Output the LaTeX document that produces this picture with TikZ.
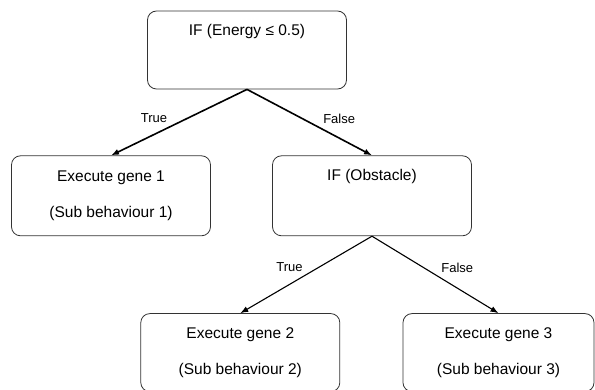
\documentclass[tikz,border=0pt]{standalone}
\usepackage{fontspec}
\setmainfont{Liberation Sans}
\usetikzlibrary{positioning, arrows.meta}

\begin{document}
\begin{tikzpicture}[x=1pt, y=-1pt,
    box/.style={draw=black!80, line width=.8pt, rounded corners=9pt, minimum width=199pt, font=\fontsize{15.5pt}{18pt}\selectfont},
    cond/.style={box, inner ysep=0pt, text height=25pt},
    lbl/.style={font=\fontsize{13pt}{15pt}\selectfont, inner sep=3pt}]
    \useasboundingbox (0,0) rectangle (595,390);
    \node (energy) [cond, text depth=53pt] at (247, 50) {IF (Energy ≤ 0.5)};
    \node (gene1) [box, minimum height=80pt, align=center, below=66pt of energy, xshift=-136pt] {Execute gene 1\\[18pt](Sub behaviour 1)};
    \node (obstacle) [cond, text depth=55pt, below=66pt of energy, xshift=125pt] {IF (Obstacle)};
    \node (gene2) [box, minimum height=78pt, align=center, below=77pt of obstacle, xshift=-131.7pt] {Execute gene 2\\[18pt](Sub behaviour 2)};
    \node (gene3) [box, minimum height=78pt, minimum width=191pt, align=center, below=77pt of obstacle, xshift=126.5pt] {Execute gene 3\\[18pt](Sub behaviour 3)};
    \draw [-{Latex[length=8pt, width=6pt]}, line width=1.6pt] (energy.south) -- node [lbl, pos=.56, above left] {True} (gene1.north);
    \draw [-{Latex[length=8pt, width=6pt]}, line width=1.6pt] (energy.south) -- node [lbl, pos=.58, above right] {False} (obstacle.north);
    \draw [-{Latex[length=8pt, width=6pt]}, line width=1.1pt] (obstacle.south) -- node [lbl, pos=.5, above left] {True} (gene2.north);
    \draw [-{Latex[length=8pt, width=6pt]}, line width=1.1pt] (obstacle.south) -- node [lbl, pos=.52, above right] {False} (gene3.north);
\end{tikzpicture}
\end{document}
